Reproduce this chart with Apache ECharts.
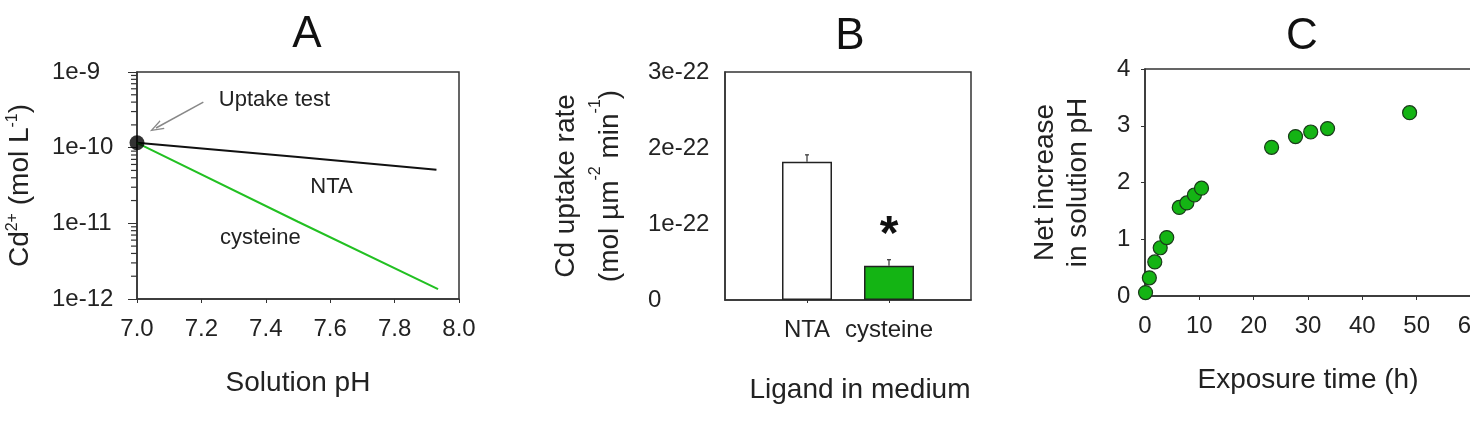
<!DOCTYPE html>
<html>
<head>
<meta charset="utf-8">
<script src="https://cdn.jsdelivr.net/npm/echarts@6/dist/echarts.min.js"></script>
<style>
  html, body { margin: 0; padding: 0; background: #fff; }
  #chart { width: 1470px; height: 443px; }
</style>
</head>
<body>
<div id="chart"></div>
<script>
// Panel A: free Cd2+ vs solution pH (log scale)
var ntaLine = [[7.0, 1.16e-10], [7.5, 7.5e-11], [7.93, 5.1e-11]];
var cysLine = [[7.0, 1.16e-10], [7.5, 1.05e-11], [7.935, 1.35e-12]];
var uptakePoint = [[7.0, 1.16e-10]];
var logMinor = [2e-12, 3e-12, 4e-12, 5e-12, 6e-12, 7e-12, 8e-12, 9e-12,
  2e-11, 3e-11, 4e-11, 5e-11, 6e-11, 7e-11, 8e-11, 9e-11,
  2e-10, 3e-10, 4e-10, 5e-10, 6e-10, 7e-10, 8e-10, 9e-10];

// Panel B: uptake rate, values in units of 1e-22
var ligands = ['', 'NTA', 'cysteine', ''];
var uptakeRate = [1.82, 0.45];
var uptakeErr = [0.09, 0.08];

// Panel C: pH increase over time
var exposureH = [0.1, 0.8, 1.8, 2.8, 4.0, 6.3, 7.7, 9.1, 10.4, 23.3, 27.7, 30.5, 33.6, 48.7];
var phIncrease = [0.06, 0.32, 0.6, 0.85, 1.03, 1.56, 1.64, 1.78, 1.9, 2.62, 2.81, 2.89, 2.95, 3.23];

var FONT = 'Liberation Sans';
var TXT = '#222';
var GREEN = '#14b414';

var chart = echarts.init(document.getElementById('chart'));

var tickFont = { fontFamily: FONT, fontSize: 24, color: TXT };
var nameFont = { fontFamily: FONT, fontSize: 28, color: TXT };
var axisLine = { show: true, lineStyle: { color: '#333', width: 1.5 } };
var titleFont = { fontFamily: FONT, fontSize: 44, fontWeight: 'normal', color: '#111' };

var option = {
  animation: false,
  title: [
    { text: 'A', left: 302, top: 8, textAlign: 'center', textStyle: titleFont },
    { text: 'B', left: 845, top: 10, textAlign: 'center', textStyle: titleFont },
    { text: 'C', left: 1297, top: 10, textAlign: 'center', textStyle: titleFont }
  ],
  grid: [
    { left: 137, top: 72, width: 322, height: 227, show: true, borderColor: '#333', borderWidth: 1.5, outerBoundsMode: 'none' },
    { left: 725, top: 72, width: 246, height: 228, show: true, borderColor: '#333', borderWidth: 1.5, outerBoundsMode: 'none' },
    { left: 1145, top: 69, width: 326, height: 227, show: true, borderColor: '#333', borderWidth: 1.5, outerBoundsMode: 'none' }
  ],
  xAxis: [
    {
      gridIndex: 0, type: 'value', min: 7.0, max: 8.0, interval: 0.2,
      name: 'Solution pH', nameLocation: 'middle', nameGap: 70, nameTextStyle: nameFont,
      axisLine: axisLine, splitLine: { show: false },
      axisTick: { length: 4, lineStyle: { color: '#333' } },
      axisLabel: Object.assign({ margin: 18, formatter: function (v) { return v.toFixed(1); } }, tickFont)
    },
    {
      gridIndex: 1, type: 'category', data: ligands, boundaryGap: false,
      name: 'Ligand in medium', nameLocation: 'middle', nameGap: 76,
      nameTextStyle: Object.assign({ padding: [0, 0, 0, 24] }, nameFont),
      axisLine: axisLine,
      axisTick: { length: 3, interval: function (i) { return i === 1 || i === 2; }, lineStyle: { color: '#333' } },
      axisLabel: Object.assign({ margin: 18, interval: 0 }, tickFont)
    },
    {
      gridIndex: 2, type: 'value', min: 0, max: 60, interval: 10,
      name: 'Exposure time (h)', nameLocation: 'middle', nameGap: 70, nameTextStyle: nameFont,
      axisLine: axisLine, splitLine: { show: false },
      axisTick: { length: 4, lineStyle: { color: '#333' } },
      axisLabel: Object.assign({ margin: 18 }, tickFont)
    }
  ],
  yAxis: [
    {
      gridIndex: 0, type: 'log', logBase: 10, min: 1e-12, max: 1e-9,
      name: 'Cd{sup|2+} (mol L{sup|-1})', nameLocation: 'middle', nameRotate: 90, nameGap: 102,
      nameTextStyle: Object.assign({
        rich: {
          sup: { fontFamily: FONT, fontSize: 16, color: TXT, verticalAlign: 'top', lineHeight: 30 }
        },
        lineHeight: 30
      }, nameFont),
      axisLine: axisLine, splitLine: { show: false },
      axisTick: { length: 9, lineStyle: { color: '#333' } },
      axisLabel: Object.assign({
        margin: 85, align: 'left',
        formatter: function (v) { return '1e' + Math.round(Math.log10(v)); }
      }, tickFont)
    },
    {
      gridIndex: 1, type: 'value', min: 0, max: 3, interval: 1,
      name: 'Cd uptake rate\n(mol µm{sup|-2} min{sup|-1})', nameLocation: 'middle', nameRotate: 90, nameGap: 93,
      nameTextStyle: Object.assign({
        rich: {
          sup: { fontFamily: FONT, fontSize: 16, color: TXT, verticalAlign: 'top', lineHeight: 44 }
        },
        lineHeight: 44
      }, nameFont),
      axisLine: axisLine, splitLine: { show: false },
      axisTick: { length: 4, lineStyle: { color: '#333' } },
      axisLabel: Object.assign({
        margin: 77, align: 'left',
        formatter: function (v) { return v === 0 ? '0' : v + 'e-22'; }
      }, tickFont)
    },
    {
      gridIndex: 2, type: 'value', min: 0, max: 4, interval: 1,
      name: 'Net increase\nin solution pH', nameLocation: 'middle', nameRotate: 90, nameGap: 50,
      nameTextStyle: Object.assign({ lineHeight: 33 }, nameFont),
      axisLine: axisLine, splitLine: { show: false },
      axisTick: { length: 4, lineStyle: { color: '#333' } },
      axisLabel: Object.assign({ margin: 28, align: 'left' }, tickFont)
    }
  ],
  series: [
    {
      type: 'line', xAxisIndex: 0, yAxisIndex: 0, data: ntaLine, showSymbol: false,
      lineStyle: { color: '#111', width: 2 }, silent: true,
      markLine: {
        silent: true, symbol: ['none', 'path://M5,0 L10,13 L8.6,13 L5,3.5 L1.4,13 L0,13 Z'], symbolSize: [10, 14],
        label: { show: false },
        lineStyle: { color: '#888', width: 1.5, type: 'solid' },
        data: [[{ coord: [7.206, 4.0e-10] }, { coord: [7.059, 1.82e-10] }]]
      },
      markPoint: {
        silent: true, symbol: 'circle', symbolSize: 0,
        data: [
          { coord: [7.427, 4.3e-10], label: { show: true, formatter: 'Uptake test', fontFamily: FONT, fontSize: 22, color: TXT, position: 'inside' } },
          { coord: [7.604, 3.0e-11], label: { show: true, formatter: 'NTA', fontFamily: FONT, fontSize: 22, color: TXT, position: 'inside' } },
          { coord: [7.383, 6.4e-12], label: { show: true, formatter: 'cysteine', fontFamily: FONT, fontSize: 22, color: TXT, position: 'inside' } }
        ]
      }
    },
    {
      type: 'line', xAxisIndex: 0, yAxisIndex: 0, data: cysLine, showSymbol: false,
      lineStyle: { color: '#22c022', width: 2 }, silent: true
    },
    {
      type: 'scatter', xAxisIndex: 0, yAxisIndex: 0, data: uptakePoint, symbolSize: 15,
      itemStyle: { color: '#000' }, silent: true, z: 5
    },
    {
      // minor log ticks on the left axis of panel A
      type: 'custom', xAxisIndex: 0, yAxisIndex: 0, data: logMinor, clip: false, silent: true,
      encode: { y: 0 },
      renderItem: function (params, api) {
        var p = api.coord([7.0, api.value(0)]);
        return { type: 'line', shape: { x1: p[0] - 6, y1: p[1], x2: p[0], y2: p[1] }, style: { stroke: '#333', lineWidth: 1.2 } };
      }
    },
    {
      type: 'bar', xAxisIndex: 1, yAxisIndex: 1, barWidth: 50, silent: true,
      data: [
        { value: ['NTA', uptakeRate[0]], itemStyle: { color: '#fff' } },
        { value: ['cysteine', uptakeRate[1]], itemStyle: { color: GREEN } }
      ],
      itemStyle: { borderColor: '#222', borderWidth: 1.5 },
      label: {
        show: true, position: 'top', distance: 6,
        formatter: function (p) { return p.dataIndex === 1 ? '*' : ''; },
        fontFamily: FONT, fontSize: 48, fontWeight: 'bold', color: '#111'
      }
    },
    {
      type: 'custom', xAxisIndex: 1, yAxisIndex: 1, silent: true,
      data: [['NTA', uptakeRate[0], uptakeErr[0]], ['cysteine', uptakeRate[1], uptakeErr[1]]],
      renderItem: function (params, api) {
        var lo = api.coord([api.value(0), api.value(1)]);
        var hi = api.coord([api.value(0), api.value(1) + api.value(2)]);
        return {
          type: 'group', children: [
            { type: 'line', shape: { x1: lo[0], y1: lo[1], x2: hi[0], y2: hi[1] }, style: { stroke: '#333', lineWidth: 1.2 } },
            { type: 'line', shape: { x1: hi[0] - 2, y1: hi[1], x2: hi[0] + 2, y2: hi[1] }, style: { stroke: '#333', lineWidth: 1.2 } }
          ]
        };
      }
    },
    {
      type: 'scatter', xAxisIndex: 2, yAxisIndex: 2, symbolSize: 14, silent: true,
      data: exposureH.map(function (t, i) { return [t, phIncrease[i]]; }),
      itemStyle: { color: GREEN, borderColor: '#1a3a1a', borderWidth: 1.2, opacity: 1 }
    }
  ]
};

chart.setOption(option);
</script>
</body>
</html>
